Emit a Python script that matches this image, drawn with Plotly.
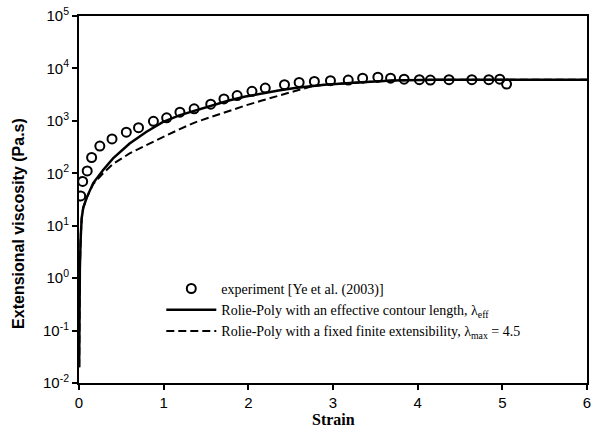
import plotly.graph_objects as go

# experiment [Ye et al. (2003)]
exp_strain = [0.02, 0.043, 0.097, 0.149, 0.246, 0.39, 0.559, 0.703, 0.879, 1.035,
              1.192, 1.36, 1.556, 1.712, 1.868, 2.043, 2.2, 2.427, 2.6, 2.78,
              2.97, 3.18, 3.35, 3.53, 3.68, 3.84, 4.02, 4.15, 4.37, 4.64,
              4.84, 4.97, 5.05]
exp_visc = [37, 70, 111, 200, 330, 453, 607, 741, 979, 1145,
            1467, 1693, 2078, 2618, 3034, 3656, 4227, 4898, 5413, 5650,
            5830, 5990, 6530, 6820, 6530, 6250, 6090, 5990, 6090, 6090,
            6090, 6250, 5030]

# Rolie-Poly with an effective contour length
eff_strain = [0.002, 0.005, 0.01, 0.02, 0.032, 0.05, 0.09, 0.168, 0.285, 0.402,
              0.598, 0.793, 0.988, 1.184, 1.38, 1.574, 1.77, 1.966, 2.16, 2.356,
              2.55, 2.9, 3.29, 3.7, 4.2, 5.0, 6.0]
eff_visc = [0.02, 0.3, 1.5, 6, 14, 22, 34, 65, 116, 192,
            369, 614, 948, 1271, 1578, 1963, 2443, 2904, 3357, 3776,
            4227, 4898, 5410, 5890, 6100, 6100, 6100]

# Rolie-Poly with a fixed finite extensibility
fix_strain = [0.002, 0.005, 0.01, 0.02, 0.032, 0.05, 0.09, 0.168, 0.285, 0.402,
              0.598, 0.793, 0.988, 1.184, 1.38, 1.574, 1.77, 1.966, 2.16, 2.356,
              2.55, 2.75, 2.9, 3.29, 3.7, 4.2, 5.0, 6.0]
fix_visc = [0.02, 0.3, 1.5, 6, 14, 22, 34, 62, 100, 151,
            239, 344, 494, 690, 948, 1216, 1578, 1963, 2443, 3034,
            3776, 4570, 4898, 5410, 5890, 6100, 6100, 6100]

x_ticks = [0, 1, 2, 3, 4, 5, 6]
y_tick_vals = [1e-2, 1e-1, 1e0, 1e1, 1e2, 1e3, 1e4, 1e5]
y_tick_text = ["10<sup>-2</sup>", "10<sup>-1</sup>", "10<sup>0</sup>", "10<sup>1</sup>",
               "10<sup>2</sup>", "10<sup>3</sup>", "10<sup>4</sup>", "10<sup>5</sup>"]

fig = go.Figure()
fig.add_trace(go.Scatter(
    x=exp_strain, y=exp_visc, mode="markers",
    name="experiment [Ye et al. (2003)]",
    marker=dict(symbol="circle-open", size=9, color="black", line=dict(width=2, color="black")),
))
fig.add_trace(go.Scatter(
    x=eff_strain, y=eff_visc, mode="lines",
    name="Rolie-Poly with an effective contour length, λ<sub>eff</sub>",
    line=dict(color="black", width=2.5),
))
fig.add_trace(go.Scatter(
    x=fix_strain, y=fix_visc, mode="lines",
    name="Rolie-Poly with a fixed finite extensibility, λ<sub>max</sub> = 4.5",
    line=dict(color="black", width=2, dash="8px,4px"),
))

tickfont = dict(family="Liberation Sans", size=15, color="black")
fig.update_layout(
    width=596, height=434,
    margin=dict(l=79, r=5, t=13, b=51),
    paper_bgcolor="white", plot_bgcolor="white",
    showlegend=True,
    legend=dict(
        x=0.162, y=0.30, xanchor="left", yanchor="top",
        bgcolor="rgba(0,0,0,0)", itemwidth=50,
        font=dict(family="Liberation Serif", size=14, color="black"),
        tracegroupgap=0,
    ),
    xaxis=dict(
        range=[0, 6], tickvals=x_ticks, ticktext=[str(v) for v in x_ticks],
        showline=True, linecolor="black", linewidth=2, mirror=True,
        ticks="outside", ticklen=5, tickwidth=1.5, tickcolor="black",
        showgrid=False, zeroline=False, tickfont=tickfont,
    ),
    yaxis=dict(
        type="log", range=[-2, 5], tickvals=y_tick_vals, ticktext=y_tick_text,
        showline=True, linecolor="black", linewidth=2, mirror=True,
        ticks="outside", ticklen=5, tickwidth=1.5, tickcolor="black",
        showgrid=False, zeroline=False, tickfont=tickfont,
    ),
    annotations=[
        dict(text="Extensional viscosity (Pa.s)", textangle=-90,
             xref="paper", yref="paper", x=-0.119, y=0.435,
             xanchor="center", yanchor="middle", showarrow=False,
             font=dict(family="Liberation Sans", size=16, color="black", weight="bold")),
        dict(text="<b>Strain</b>",
             xref="paper", yref="paper", x=0.5, y=-0.1,
             xanchor="center", yanchor="middle", showarrow=False,
             font=dict(family="Liberation Serif", size=16, color="black")),
    ],
)

fig.write_html("out.html")
